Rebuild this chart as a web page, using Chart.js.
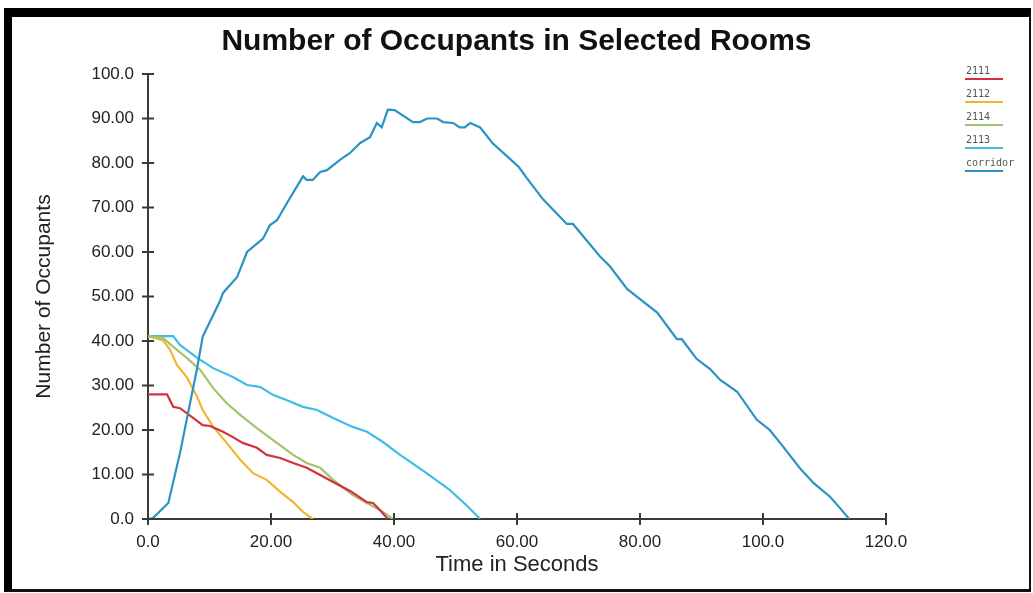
<!DOCTYPE html>
<html>
<head>
<meta charset="utf-8">
<title>Number of Occupants in Selected Rooms</title>
<script src="https://cdn.jsdelivr.net/npm/chart.js@4/dist/chart.umd.min.js"></script>
<style>
  body { margin: 0; background: #fff; }
  #wrap { position: relative; width: 1033px; height: 593px; }
  #frame {
    position: absolute; left: 4px; top: 8px; right: 2px; bottom: 1px;
    border-top: 9px solid #000; border-left: 8px solid #000;
    border-right: 2px solid #111; border-bottom: 3px solid #111;
    pointer-events: none;
  }
</style>
</head>
<body>
<div id="wrap">
  <canvas id="occChart" width="1033" height="593"></canvas>
  <div id="frame"></div>
</div>
<script>
// values (time in s, occupants)
const corridorT = [0, 0.8, 3.3, 5.2, 8, 8.9, 11.7, 12.2, 14.5, 16.1, 18.7, 19.8, 21, 22.6, 25.2, 25.8, 26.8, 28, 29.1, 31.2, 32.8, 34.5, 36.1, 37.2, 38, 39, 40.1, 43.1, 44.2, 45.4, 47, 48, 49.6, 50.7, 51.5, 52.4, 54, 56, 58.4, 60.3, 61.6, 64.2, 68.1, 69.1, 73.5, 75.1, 77.9, 80, 82.8, 86, 86.8, 89.2, 91.4, 93, 95.8, 99, 101.1, 103.3, 106, 108.2, 110.9, 112.5, 114];
const corridorV = [0, 0.2, 3.6, 14.8, 34, 41, 49, 50.8, 54.4, 60, 63, 66, 67.2, 71, 77, 76.2, 76.2, 78, 78.4, 80.7, 82.2, 84.5, 85.8, 89, 88, 92, 91.9, 89.2, 89.2, 90, 90, 89.2, 89, 88, 88, 89, 88, 84.5, 81.5, 79.1, 76.6, 71.9, 66.3, 66.3, 59, 56.8, 51.7, 49.4, 46.4, 40.4, 40.4, 36, 33.7, 31.3, 28.6, 22.3, 20, 16.2, 11.4, 8.1, 5, 2.5, 0];

const room2113T = [0, 4.1, 5.2, 8, 10.6, 13.8, 16.1, 18.2, 20.3, 22.6, 25.2, 27.5, 30.1, 33.3, 35.6, 38.2, 41, 45, 49, 52, 54];
const room2113V = [41.1, 41.1, 39.1, 36.2, 33.9, 31.9, 30.1, 29.7, 27.9, 26.7, 25.2, 24.5, 22.7, 20.7, 19.6, 17.3, 14.4, 10.6, 6.6, 2.8, 0];

const room2114T = [0, 2.4, 4.7, 6.3, 8.5, 10.6, 12.8, 15, 17.7, 20.3, 23.6, 25.8, 28, 30.1, 33.3, 35.6, 38.2, 39.8];
const room2114V = [41.1, 40.7, 38, 36.2, 33.5, 29.4, 26, 23.4, 20.4, 17.8, 14.4, 12.6, 11.5, 8.8, 5.4, 3.6, 1.6, 0];

const room2111T = [0, 3.1, 4.1, 5.2, 6.3, 8.9, 10.1, 12.2, 13.8, 15.4, 17.7, 19.3, 21.5, 23.6, 25.8, 28, 30.1, 33, 35.6, 36.6, 37.7, 39];
const room2111V = [28, 28, 25.2, 24.9, 23.8, 21.1, 20.9, 19.6, 18.4, 17.1, 16, 14.4, 13.7, 12.6, 11.5, 9.9, 8.3, 6.2, 3.8, 3.6, 2, 0];

const room2112T = [0, 2.4, 3.6, 4.7, 6.3, 8, 8.9, 10.6, 12.8, 15, 17.1, 19.3, 21.5, 23.6, 25.2, 26.8];
const room2112V = [41.1, 40.2, 38, 34.6, 31.9, 27.4, 24.5, 20.7, 17.1, 13.3, 10.3, 8.8, 6.1, 3.8, 1.6, 0];

const xTickValues = [0, 20, 40, 60, 80, 100, 120];
const xTickLabels = ['0.0', '20.00', '40.00', '60.00', '80.00', '100.0', '120.0'];
const yTickValues = [0, 10, 20, 30, 40, 50, 60, 70, 80, 90, 100];
const yTickLabels = ['0.0', '10.00', '20.00', '30.00', '40.00', '50.00', '60.00', '70.00', '80.00', '90.00', '100.0'];

const legendNames = ['2111', '2112', '2114', '2113', 'corridor'];
const legendColors = ['#d2323f', '#f2b531', '#a3c46e', '#3dbde8', '#2a93c4'];

const FONT = '"Liberation Sans", Arial, sans-serif';

function toPoints(ts, vs) {
  return ts.map((t, i) => ({ x: t, y: vs[i] }));
}

function lineSet(label, color, ts, vs) {
  return {
    label: label,
    data: toPoints(ts, vs),
    borderColor: color,
    borderWidth: 2.2,
    pointRadius: 0,
    tension: 0,
    fill: false
  };
}

// tick marks that cross the axis line on both sides
const crossTicks = {
  id: 'crossTicks',
  afterDraw(chart) {
    const ctx = chart.ctx;
    const xs = chart.scales.x, ys = chart.scales.y;
    const area = chart.chartArea;
    ctx.save();
    ctx.strokeStyle = '#3a3a3a';
    ctx.lineWidth = 2;
    ctx.beginPath();
    yTickValues.forEach(v => {
      const py = ys.getPixelForValue(v);
      ctx.moveTo(area.left - 6, py);
      ctx.lineTo(area.left + 6, py);
    });
    xTickValues.forEach(v => {
      const px = xs.getPixelForValue(v);
      ctx.moveTo(px, area.bottom - 6);
      ctx.lineTo(px, area.bottom + 6);
    });
    ctx.stroke();
    ctx.restore();
  }
};

// legend on the right: label with a coloured line under it
const sideLegend = {
  id: 'sideLegend',
  afterDraw(chart) {
    const ctx = chart.ctx;
    ctx.save();
    ctx.font = '10px "DejaVu Sans Mono", monospace';
    ctx.textBaseline = 'middle';
    ctx.textAlign = 'left';
    legendNames.forEach((name, i) => {
      const y = 71 + i * 23;
      ctx.fillStyle = '#555';
      ctx.fillText(name, 966, y);
      ctx.strokeStyle = legendColors[i];
      ctx.lineWidth = 2;
      ctx.beginPath();
      ctx.moveTo(965, y + 8);
      ctx.lineTo(1003, y + 8);
      ctx.stroke();
    });
    ctx.restore();
  }
};

const ctx = document.getElementById('occChart').getContext('2d');
const occChart = new Chart(ctx, {
  type: 'line',
  data: {
    datasets: [
      lineSet('corridor', legendColors[4], corridorT, corridorV),
      lineSet('2111', legendColors[0], room2111T, room2111V),
      lineSet('2114', legendColors[2], room2114T, room2114V),
      lineSet('2112', legendColors[1], room2112T, room2112V),
      lineSet('2113', legendColors[3], room2113T, room2113V)
    ]
  },
  options: {
    responsive: false,
    animation: false,
    devicePixelRatio: 1,
    layout: { padding: { left: 0, right: 0, top: 0, bottom: 15 } },
    plugins: {
      legend: { display: false },
      tooltip: { enabled: false },
      title: {
        display: true,
        text: 'Number of Occupants in Selected Rooms',
        color: '#111',
        font: { family: FONT, size: 30, weight: 'bold' },
        padding: { top: 24, bottom: 14 }
      }
    },
    scales: {
      x: {
        type: 'linear',
        min: 0,
        max: 120,
        afterBuildTicks: s => { s.ticks = xTickValues.map(v => ({ value: v })); },
        afterFit: s => { s.height = 59; },
        grid: { display: false, drawTicks: false },
        border: { display: true, color: '#3a3a3a', width: 2 },
        ticks: {
          padding: 13,
          color: '#222',
          maxRotation: 0,
          font: { family: FONT, size: 17 },
          callback: v => xTickLabels[xTickValues.indexOf(v)]
        },
        title: {
          display: true,
          text: 'Time in Seconds',
          color: '#222',
          padding: 0,
          font: { family: FONT, size: 22 }
        }
      },
      y: {
        min: 0,
        max: 100,
        afterBuildTicks: s => { s.ticks = yTickValues.map(v => ({ value: v })); },
        afterFit: s => { s.width = 148; },
        grid: { display: false, drawTicks: false },
        border: { display: true, color: '#3a3a3a', width: 2 },
        ticks: {
          padding: 14,
          color: '#222',
          font: { family: FONT, size: 17 },
          callback: v => yTickLabels[yTickValues.indexOf(v)]
        },
        title: {
          display: true,
          text: 'Number of Occupants',
          color: '#222',
          padding: { top: 32, bottom: 0 },
          font: { family: FONT, size: 21 }
        }
      },
      // empty right-hand box that holds the space used by the legend
      yr: {
        position: 'right',
        min: 0,
        max: 100,
        afterFit: s => { s.width = 147; },
        grid: { display: false, drawTicks: false },
        border: { display: false },
        ticks: { display: false }
      }
    }
  },
  plugins: [crossTicks, sideLegend]
});
</script>
</body>
</html>
